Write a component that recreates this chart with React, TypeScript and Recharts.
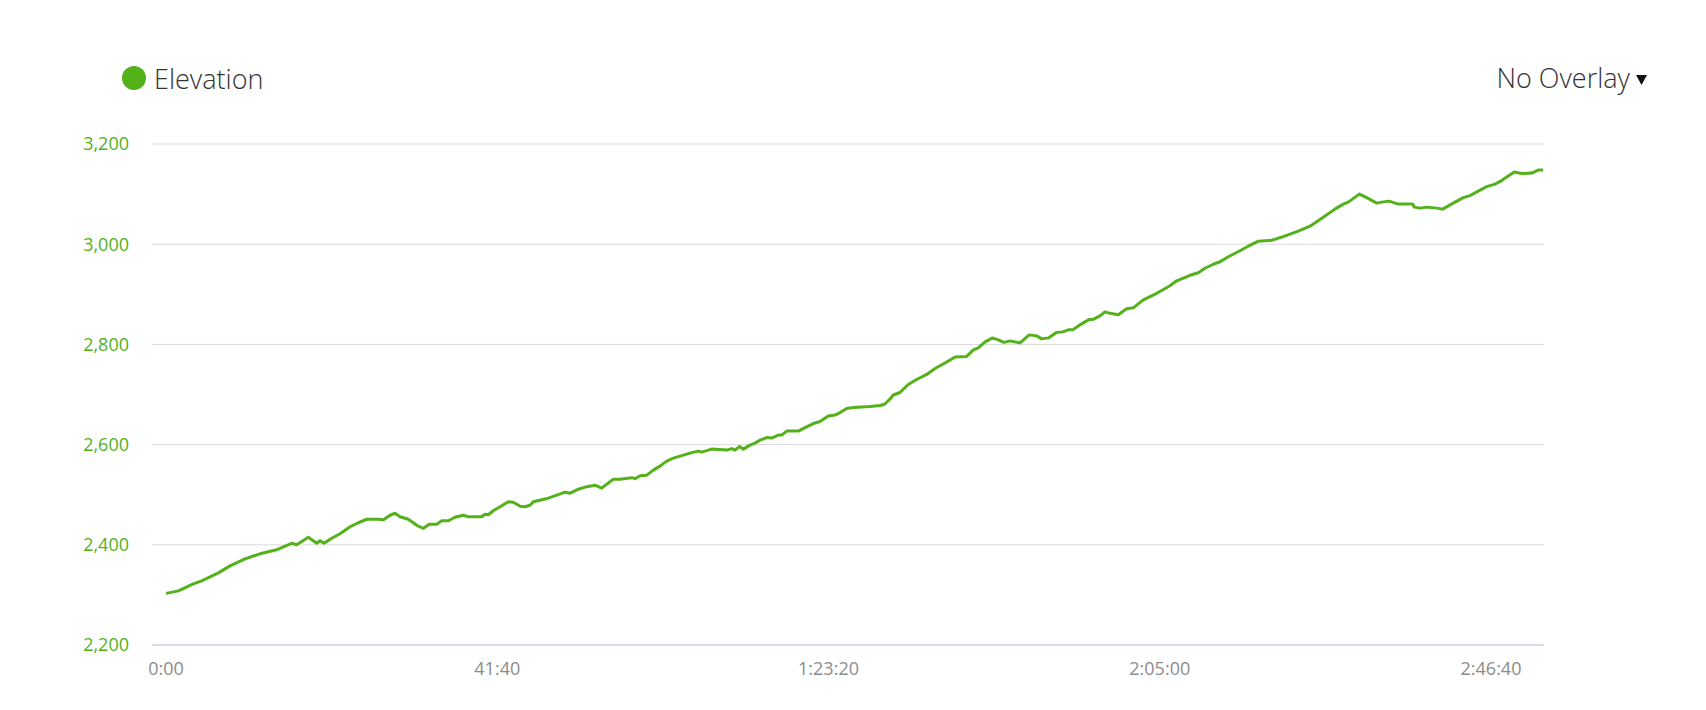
import React from 'react';
import { LineChart, Line, XAxis, YAxis, CartesianGrid } from 'recharts';

// elapsed time in seconds
const times = [
  0, 93, 206, 269, 395, 483, 596, 709, 835, 885, 949, 986, 1074, 1137, 1162, 1192,
  1251, 1313, 1389, 1451, 1515, 1602, 1640, 1691, 1728, 1766, 1829, 1892, 1942, 1987,
  2043, 2081, 2131, 2181, 2244, 2281, 2383, 2407, 2432, 2470, 2521, 2583, 2621, 2672,
  2709, 2747, 2772, 2885, 2949, 3011, 3049, 3112, 3175, 3238, 3288, 3326, 3376, 3426,
  3515, 3540, 3577, 3628, 3678, 3728, 3779, 3829, 3904, 3967, 4017, 4043, 4118, 4232,
  4269, 4294, 4327, 4357, 4407, 4445, 4483, 4533, 4571, 4621, 4647, 4684, 4772, 4823,
  4885, 4936, 4998, 5049, 5087, 5137, 5187, 5313, 5389, 5426, 5464, 5489, 5539, 5602,
  5665, 5741, 5804, 5879, 5955, 6043, 6093, 6130, 6181, 6239, 6281, 6324, 6370, 6445,
  6515, 6571, 6609, 6659, 6722, 6767, 6810, 6843, 6898, 6961, 6998, 7049, 7087, 7124,
  7187, 7250, 7300, 7376, 7477, 7577, 7628, 7728, 7791, 7841, 7904, 7955, 8017, 8105,
  8168, 8244, 8345, 8432, 8545, 8634, 8734, 8822, 8885, 8923, 9006, 9062, 9137, 9175,
  9232, 9300, 9409, 9421, 9464, 9515, 9590, 9635, 9715, 9791, 9841, 9904, 9967, 10030,
  10080, 10130, 10176, 10231, 10307, 10357, 10394,
];

// elevation in metres at each time above
const elevations = [
  2303, 2308, 2322, 2328, 2344, 2358, 2372, 2382, 2390, 2396, 2403, 2400, 2415, 2403, 2408, 2403,
  2413, 2422, 2436, 2444, 2451, 2451, 2450, 2459, 2463, 2456, 2451, 2439, 2433, 2441,
  2441, 2448, 2448, 2455, 2459, 2456, 2456, 2461, 2460, 2468, 2476, 2486, 2485, 2477,
  2476, 2479, 2486, 2493, 2499, 2505, 2503, 2511, 2516, 2519, 2513, 2521, 2531, 2531,
  2534, 2532, 2538, 2539, 2549, 2557, 2567, 2573, 2579, 2584, 2587, 2585, 2591, 2589,
  2592, 2589, 2596, 2591, 2599, 2603, 2609, 2614, 2613, 2619, 2619, 2627, 2627, 2634,
  2642, 2646, 2657, 2659, 2664, 2672, 2674, 2676, 2678, 2681, 2691, 2699, 2704, 2720,
  2730, 2740, 2752, 2763, 2775, 2776, 2789, 2793, 2805, 2813, 2809, 2804, 2807, 2803,
  2819, 2817, 2811, 2813, 2824, 2825, 2829, 2829, 2839, 2849, 2850, 2857, 2865, 2862,
  2859, 2871, 2873, 2889, 2902, 2917, 2927, 2938, 2943, 2952, 2960, 2965, 2975, 2987,
  2996, 3006, 3008, 3015, 3026, 3036, 3054, 3070, 3080, 3084, 3100, 3093, 3082, 3084,
  3086, 3080, 3080, 3074, 3072, 3074, 3072, 3070, 3082, 3093, 3097, 3106, 3115, 3120,
  3127, 3136, 3144, 3141, 3142, 3148, 3148,
];

const timeTicks = [0, 2500, 5000, 7500, 10000];
const elevationTicks = [2200, 2400, 2600, 2800, 3000, 3200];

const data = times.map((t, i) => ({ t, elevation: elevations[i] }));

const GREEN = '#53b11a';
const FONT = "'Open Sans', 'Noto Sans', sans-serif";

const formatTime = (s: number) => {
  const h = Math.floor(s / 3600);
  const m = Math.floor((s % 3600) / 60);
  const sec = Math.round(s % 60);
  const pad = (n: number) => String(n).padStart(2, '0');
  return h > 0 ? `${h}:${pad(m)}:${pad(sec)}` : `${m}:${pad(sec)}`;
};

export default function App() {
  return (
    <div style={{ position: 'absolute', left: 0, top: 0, width: 1706, height: 710, background: '#fff', fontFamily: FONT }}>
      <LineChart
        width={1706}
        height={710}
        data={data}
        margin={{ top: 144, right: 162, bottom: 0, left: 0 }}
      >
        <CartesianGrid vertical={false} stroke="#d9d9d9" />
        <XAxis
          dataKey="t"
          type="number"
          domain={[-106, 10400]}
          allowDataOverflow
          ticks={timeTicks}
          tickFormatter={formatTime}
          height={65}
          tickLine={false}
          tickSize={0}
          tickMargin={17}
          axisLine={{ stroke: '#ccd6eb', strokeWidth: 1.5 }}
          tick={{ fill: '#8c8c8c', fontSize: 18, fontFamily: FONT }}
        />
        <YAxis
          type="number"
          domain={[2200, 3200]}
          ticks={elevationTicks}
          tickFormatter={(v: number) => v.toLocaleString('en-US')}
          width={152}
          axisLine={false}
          tickLine={false}
          tickSize={0}
          tickMargin={23}
          tick={{ fill: GREEN, fontSize: 18, fontFamily: FONT }}
        />
        <Line
          type="linear"
          dataKey="elevation"
          stroke={GREEN}
          strokeWidth={3}
          strokeLinejoin="round"
          dot={false}
          isAnimationActive={false}
        />
      </LineChart>
      <svg width={1706} height={710} style={{ position: 'absolute', left: 0, top: 0, pointerEvents: 'none' }}>
        <circle cx={134} cy={78} r={12} fill={GREEN} />
        <text x={154} y={89} fontSize={27} fontWeight={300} fill="#333" fontFamily={FONT}>Elevation</text>
        <text x={1630} y={88} fontSize={27} fontWeight={300} fill="#333" fontFamily={FONT} textAnchor="end">No Overlay</text>
        <path d="M1636 75 L1647 75 L1641.5 85 Z" fill="#111" />
      </svg>
    </div>
  );
}
